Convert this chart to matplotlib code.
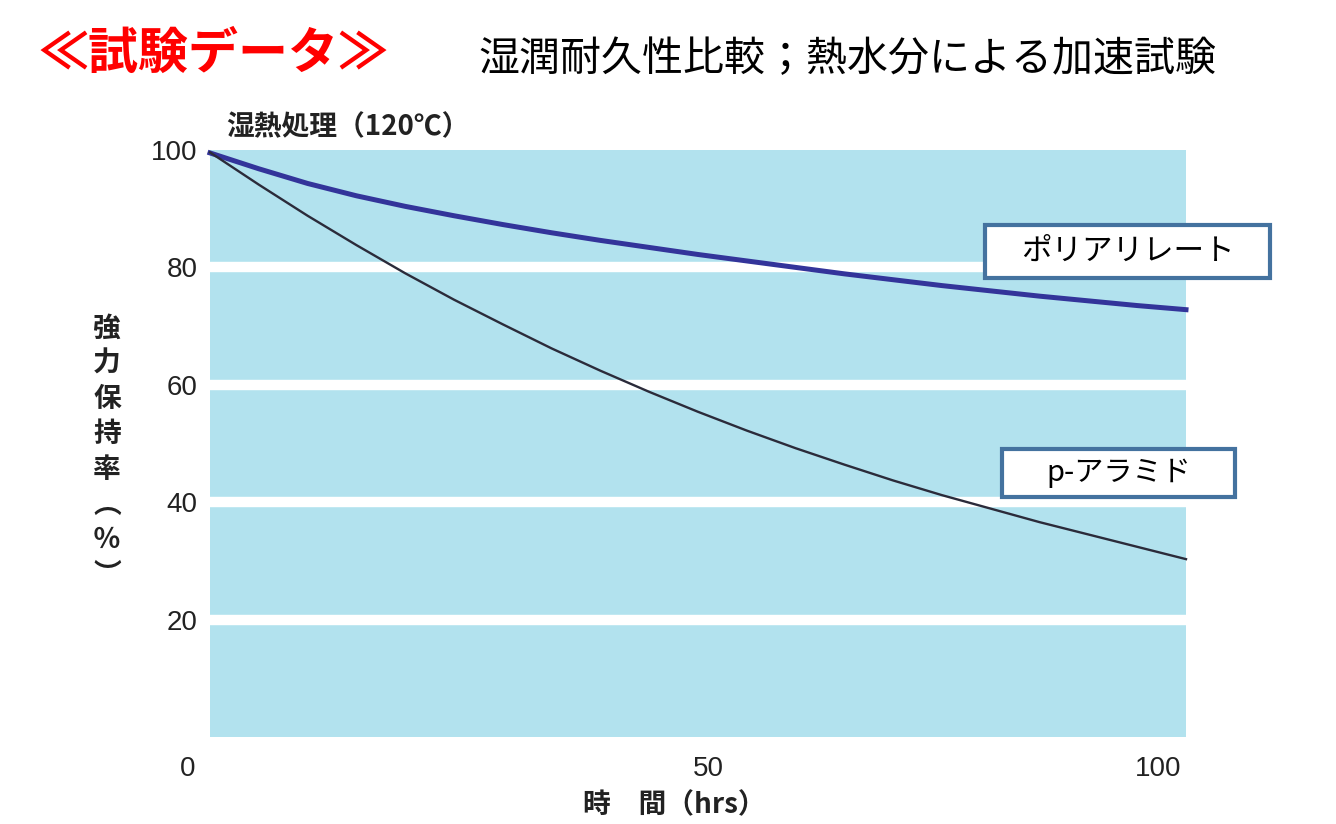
import numpy as np
import matplotlib
matplotlib.use("Agg")
import matplotlib.pyplot as plt
from matplotlib.patches import Rectangle
from matplotlib.transforms import ScaledTranslation

plt.rcParams['font.family'] = ['Noto Sans CJK JP', 'DejaVu Sans']

# values (strength retention %, vs hours at 120C)
hours = [0, 5, 10, 15, 20, 25, 30, 35, 40, 45, 50,
         55, 60, 65, 70, 75, 80, 85, 90, 95, 100]
polyarylate = [99.5, 96.8, 94.3, 92.2, 90.4, 88.8, 87.3, 85.9, 84.6, 83.4, 82.2,
               81.1, 80.0, 78.9, 77.9, 76.9, 76.0, 75.1, 74.3, 73.5, 72.8]
aramid = [99.6, 94.1, 88.8, 83.8, 79.0, 74.5, 70.3, 66.2, 62.4, 58.8, 55.4,
          52.2, 49.2, 46.4, 43.7, 41.2, 38.9, 36.6, 34.5, 32.4, 30.3]

xticks = [0, 50, 100]
yticks = [20, 40, 60, 80, 100]

W, H = 1336, 824
fig = plt.figure(figsize=(W / 100, H / 100), dpi=100)
ax = fig.add_axes([210 / W, 1 - 737 / H, (1186 - 210) / W, (737 - 150) / H])
ax.set_facecolor('#b2e2ee')
for s in ax.spines.values():
    s.set_visible(False)

ax.plot(hours, polyarylate, color='#33349a', lw=3.6, clip_on=False, zorder=3,
        solid_joinstyle='round')
ax.plot(hours, aramid, color='#2b2b3a', lw=1.7, clip_on=False, zorder=3,
        solid_joinstyle='round')

ax.set_xlim(0, 100)
ax.set_ylim(0, 100)
ax.set_xticks(xticks)
ax.set_yticks(yticks)
ax.tick_params(length=0, labelsize=20, labelcolor='#222222')
ax.tick_params(axis='y', pad=9)
ax.tick_params(axis='x', pad=14)
for lab in ax.get_xticklabels() + ax.get_yticklabels():
    lab.set_fontfamily(['Liberation Sans', 'DejaVu Sans'])
ax.set_axisbelow(True)
ax.grid(axis='y', color='white', lw=7.5)
ax.grid(axis='x', visible=False)
ax.yaxis.get_gridlines()[-1].set_visible(False)

# scanned chart had its x labels nudged
for lab, dx in zip(ax.get_xticklabels(), [-22, 10, -28]):
    lab.set_transform(lab.get_transform() + ScaledTranslation(dx / 100, 0, fig.dpi_scale_trans))

# titles
fig.text(38 / W, 1 - 54 / H, '≪試験データ≫', color='#ff0000', fontsize=36,
         fontweight='bold', va='center', ha='left')
fig.text(478 / W, 1 - 60 / H, '湿潤耐久性比較；熱水分による加速試験', color='black',
         fontsize=29.5, va='center', ha='left')
fig.text(226 / W, 1 - 127 / H, '湿熱処理（120℃）', color='#222222', fontsize=20,
         fontweight='bold', va='center', ha='left')

# axis labels
fig.text(107 / W, 1 - 452 / H, '\n'.join('強力保持率︵％︶'), color='#222222',
         fontsize=20, fontweight='bold', va='center', ha='center', linespacing=1.33)
fig.text(583 / W, 1 - 805 / H, '時　間（hrs）', color='#222222', fontsize=20,
         fontweight='bold', va='center', ha='left')

# label boxes
boxes = [('ポリアリレート', 985, 225, 1270, 278, 22),
         ('p-アラミド', 1002, 449, 1235, 497, 21)]
for txt, x0, y0, x1, y1, fs in boxes:
    fig.add_artist(Rectangle((x0 / W, 1 - y1 / H), (x1 - x0) / W, (y1 - y0) / H,
                             transform=fig.transFigure, facecolor='white',
                             edgecolor='#44729f', lw=3, zorder=5))
    fig.text((x0 + x1) / 2 / W, 1 - (y0 + y1) / 2 / H, txt, fontsize=fs,
             ha='center', va='center', color='black', zorder=6)

fig.savefig('out.png', dpi=100)
